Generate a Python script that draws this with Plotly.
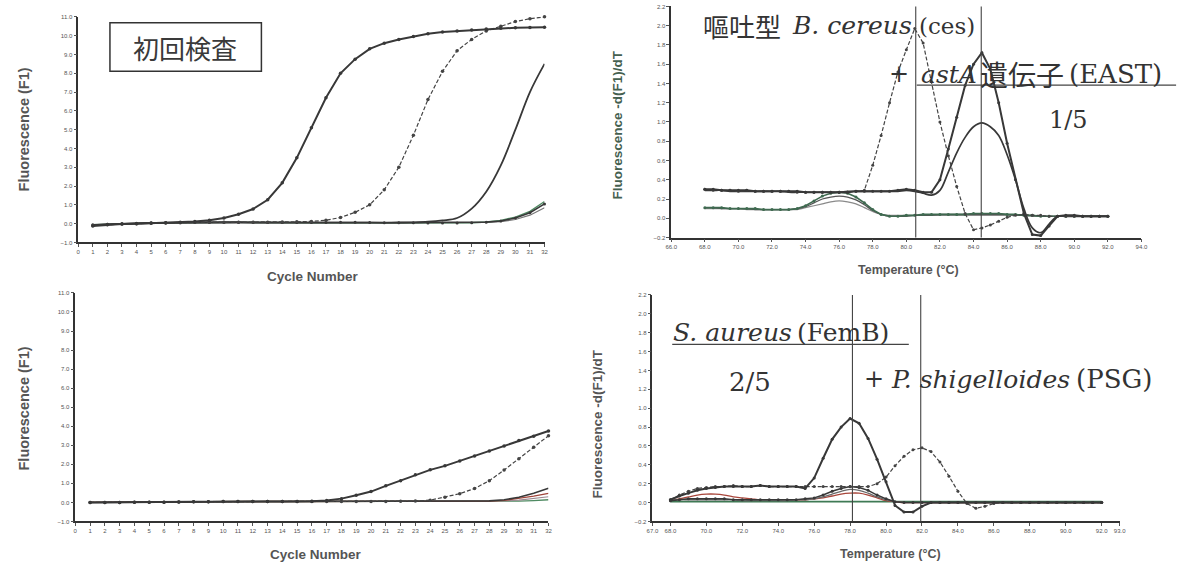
import plotly.graph_objects as go

W, H = 1191, 570

# ---------------- data ----------------
cycles = [1, 2, 3, 4, 5, 6, 7, 8, 9, 10, 11, 12, 13, 14, 15, 16,
          17, 18, 19, 20, 21, 22, 23, 24, 25, 26, 27, 28, 29, 30, 31, 32]

# top-left (初回検査) amplification curves
tl_a = [-0.12, -0.06, -0.02, 0.0, 0.03, 0.05, 0.08, 0.12, 0.18, 0.3, 0.5, 0.78, 1.27, 2.17, 3.5, 5.1,
        6.7, 8.0, 8.75, 9.3, 9.6, 9.8, 9.95, 10.1, 10.2, 10.25, 10.3, 10.35, 10.4, 10.42, 10.44, 10.45]
tl_b = [-0.1, -0.05, -0.02, 0.0, 0.02, 0.03, 0.05, 0.07, 0.08, 0.08, 0.08, 0.08, 0.08, 0.09, 0.1, 0.12,
        0.18, 0.33, 0.6, 1.0, 1.8, 3.0, 4.7, 6.6, 8.1, 9.2, 9.8, 10.25, 10.5, 10.75, 10.9, 11.0]
tl_c = [-0.08, -0.04, -0.01, 0.01, 0.03, 0.04, 0.05, 0.06, 0.06, 0.06, 0.06, 0.05, 0.05, 0.05, 0.05, 0.05,
        0.05, 0.05, 0.05, 0.05, 0.05, 0.06, 0.07, 0.1, 0.17, 0.3, 0.8, 1.7, 3.1, 5.0, 7.0, 8.5]
tl_n1 = [-0.06, -0.03, 0.0, 0.02, 0.04, 0.05, 0.06, 0.07, 0.07, 0.08, 0.08, 0.07, 0.06, 0.06, 0.06, 0.06,
         0.06, 0.07, 0.07, 0.06, 0.05, 0.05, 0.05, 0.04, 0.04, 0.04, 0.05, 0.08, 0.14, 0.3, 0.58, 1.05]
tl_n2 = [-0.05, -0.02, 0.0, 0.02, 0.03, 0.04, 0.05, 0.06, 0.06, 0.07, 0.07, 0.06, 0.05, 0.05, 0.05, 0.05,
         0.05, 0.06, 0.06, 0.05, 0.04, 0.04, 0.04, 0.03, 0.03, 0.03, 0.05, 0.09, 0.17, 0.35, 0.65, 1.18]
tl_n3 = [-0.07, -0.04, -0.01, 0.01, 0.03, 0.04, 0.05, 0.06, 0.06, 0.07, 0.07, 0.06, 0.05, 0.05, 0.05, 0.05,
         0.05, 0.06, 0.06, 0.05, 0.04, 0.04, 0.04, 0.03, 0.03, 0.03, 0.04, 0.06, 0.11, 0.22, 0.45, 0.85]

# bottom-left amplification curves
bl_d = [0.0, 0.0, 0.0, 0.01, 0.01, 0.01, 0.02, 0.03, 0.04, 0.05, 0.05, 0.05, 0.05, 0.05, 0.05, 0.06,
        0.1, 0.2, 0.38, 0.57, 0.87, 1.14, 1.45, 1.71, 1.92, 2.18, 2.44, 2.7, 2.96, 3.25, 3.48, 3.75]
bl_e = [0.0, 0.0, 0.0, 0.01, 0.01, 0.01, 0.02, 0.03, 0.04, 0.05, 0.05, 0.05, 0.05, 0.05, 0.05, 0.05,
        0.05, 0.05, 0.05, 0.05, 0.05, 0.06, 0.07, 0.12, 0.27, 0.46, 0.73, 1.14, 1.7, 2.3, 2.9, 3.5]
bl_f = [0.0, 0.0, 0.0, 0.01, 0.01, 0.01, 0.02, 0.03, 0.04, 0.05, 0.05, 0.05, 0.05, 0.05, 0.05, 0.05,
        0.05, 0.05, 0.05, 0.05, 0.05, 0.05, 0.05, 0.05, 0.05, 0.05, 0.06, 0.08, 0.14, 0.27, 0.48, 0.74]
bl_g = [0.0, 0.0, 0.0, 0.01, 0.01, 0.01, 0.02, 0.03, 0.04, 0.05, 0.05, 0.05, 0.05, 0.05, 0.05, 0.05,
        0.05, 0.05, 0.05, 0.05, 0.05, 0.05, 0.05, 0.05, 0.05, 0.05, 0.05, 0.07, 0.11, 0.2, 0.33, 0.48]
bl_h = [0.0, 0.0, 0.0, 0.01, 0.01, 0.01, 0.02, 0.03, 0.04, 0.05, 0.05, 0.05, 0.05, 0.05, 0.05, 0.05,
        0.05, 0.05, 0.05, 0.05, 0.05, 0.05, 0.05, 0.05, 0.05, 0.05, 0.05, 0.06, 0.08, 0.12, 0.2, 0.3]
bl_i = [0.0, 0.0, 0.0, 0.01, 0.01, 0.01, 0.02, 0.03, 0.04, 0.05, 0.05, 0.05, 0.05, 0.05, 0.05, 0.05,
        0.05, 0.05, 0.05, 0.05, 0.05, 0.05, 0.05, 0.05, 0.05, 0.05, 0.05, 0.05, 0.06, 0.07, 0.1, 0.14]

temps = [68.0, 68.5, 69.0, 69.5, 70.0, 70.5, 71.0, 71.5, 72.0, 72.5, 73.0, 73.5, 74.0, 74.5, 75.0, 75.5,
         76.0, 76.5, 77.0, 77.5, 78.0, 78.5, 79.0, 79.5, 80.0, 80.5, 81.0, 81.5, 82.0, 82.5, 83.0, 83.5,
         84.0, 84.5, 85.0, 85.5, 86.0, 86.5, 87.0, 87.5, 88.0, 88.5, 89.0, 89.5, 90.0, 90.5, 91.0, 91.5, 92.0]

# top-right melting curves
tr_ces = [0.30, 0.29, 0.29, 0.29, 0.28, 0.29, 0.28, 0.28, 0.28, 0.28, 0.28, 0.27, 0.27, 0.27, 0.27, 0.27,
          0.27, 0.27, 0.28, 0.29, 0.55, 0.86, 1.20, 1.52, 1.75, 1.97, 1.82, 1.42, 1.00, 0.65, 0.33, 0.05,
          -0.12, -0.10, -0.07, -0.03, 0.01, 0.03, 0.04, 0.03, 0.03, 0.02, 0.02, 0.02, 0.02, 0.02, 0.02, 0.02, 0.02]
tr_tall = [0.30, 0.30, 0.29, 0.29, 0.29, 0.29, 0.28, 0.28, 0.28, 0.28, 0.28, 0.28, 0.27, 0.27, 0.27, 0.27,
           0.27, 0.27, 0.28, 0.28, 0.28, 0.28, 0.28, 0.29, 0.30, 0.29, 0.27, 0.27, 0.40, 0.72, 1.05, 1.38,
           1.60, 1.72, 1.55, 1.20, 0.78, 0.40, 0.05, -0.17, -0.18, -0.08, 0.02, 0.03, 0.03, 0.02, 0.02, 0.02, 0.02]
tr_short = [0.29, 0.29, 0.29, 0.28, 0.28, 0.28, 0.28, 0.28, 0.28, 0.28, 0.27, 0.27, 0.27, 0.27, 0.27, 0.27,
            0.27, 0.28, 0.28, 0.28, 0.28, 0.28, 0.28, 0.28, 0.29, 0.28, 0.26, 0.24, 0.29, 0.48, 0.68, 0.84,
            0.95, 0.99, 0.95, 0.86, 0.66, 0.40, 0.10, -0.10, -0.15, -0.06, 0.02, 0.02, 0.02, 0.02, 0.02, 0.02, 0.02]
tr_low1 = [0.11, 0.11, 0.11, 0.10, 0.10, 0.10, 0.10, 0.09, 0.09, 0.09, 0.09, 0.10, 0.13, 0.18, 0.23, 0.26,
           0.27, 0.26, 0.22, 0.16, 0.09, 0.04, 0.02, 0.02, 0.03, 0.03, 0.04, 0.04, 0.04, 0.04, 0.04, 0.04,
           0.05, 0.05, 0.05, 0.05, 0.04, 0.04, 0.03, 0.03, 0.02, 0.02, 0.02, 0.02, 0.02, 0.02, 0.02, 0.02, 0.02]
tr_low2 = [0.11, 0.11, 0.10, 0.10, 0.10, 0.10, 0.09, 0.09, 0.09, 0.09, 0.09, 0.10, 0.12, 0.16, 0.20, 0.22,
           0.23, 0.22, 0.19, 0.14, 0.08, 0.04, 0.02, 0.02, 0.02, 0.03, 0.03, 0.03, 0.04, 0.04, 0.04, 0.04,
           0.04, 0.04, 0.04, 0.04, 0.04, 0.03, 0.03, 0.03, 0.02, 0.02, 0.02, 0.02, 0.02, 0.02, 0.02, 0.02, 0.02]
tr_low3 = [0.10, 0.10, 0.10, 0.10, 0.10, 0.09, 0.09, 0.09, 0.09, 0.09, 0.09, 0.09, 0.11, 0.13, 0.15, 0.17,
           0.18, 0.17, 0.15, 0.11, 0.07, 0.04, 0.03, 0.03, 0.03, 0.03, 0.03, 0.03, 0.03, 0.03, 0.03, 0.03,
           0.03, 0.03, 0.03, 0.03, 0.03, 0.03, 0.03, 0.02, 0.02, 0.02, 0.02, 0.02, 0.02, 0.02, 0.02, 0.02, 0.02]

# bottom-right melting curves
br_fem = [0.03, 0.07, 0.10, 0.13, 0.15, 0.16, 0.17, 0.17, 0.17, 0.17, 0.18, 0.17, 0.17, 0.17, 0.17, 0.15,
          0.26, 0.47, 0.67, 0.80, 0.89, 0.84, 0.68, 0.46, 0.22, -0.03, -0.10, -0.10, -0.04, 0.00, 0.00, 0.00,
          0.00, 0.00, 0.00, 0.00, 0.00, 0.00, 0.00, 0.00, 0.00, 0.00, 0.00, 0.00, 0.00, 0.00, 0.00, 0.00, 0.00]
br_psg = [0.03, 0.08, 0.12, 0.15, 0.16, 0.17, 0.17, 0.18, 0.17, 0.17, 0.18, 0.17, 0.17, 0.17, 0.17, 0.17,
          0.17, 0.17, 0.17, 0.17, 0.17, 0.17, 0.17, 0.20, 0.27, 0.39, 0.49, 0.56, 0.58, 0.54, 0.43, 0.28,
          0.12, -0.01, -0.06, -0.04, -0.01, 0.00, 0.00, 0.00, 0.00, 0.00, 0.00, 0.00, 0.00, 0.00, 0.00, 0.00, 0.00]
br_low1 = [0.02, 0.03, 0.04, 0.04, 0.04, 0.04, 0.04, 0.03, 0.03, 0.03, 0.03, 0.03, 0.03, 0.03, 0.03, 0.04,
           0.05, 0.08, 0.12, 0.15, 0.17, 0.16, 0.13, 0.08, 0.04, 0.01, 0.00, 0.00, 0.00, 0.00, 0.00, 0.00,
           0.00, 0.00, 0.00, 0.00, 0.00, 0.00, 0.00, 0.00, 0.00, 0.00, 0.00, 0.00, 0.00, 0.00, 0.00, 0.00, 0.00]
br_low2 = [0.02, 0.03, 0.03, 0.03, 0.03, 0.03, 0.03, 0.03, 0.02, 0.02, 0.02, 0.02, 0.02, 0.02, 0.03, 0.03,
           0.04, 0.06, 0.09, 0.12, 0.14, 0.13, 0.10, 0.06, 0.03, 0.01, 0.00, 0.00, 0.00, 0.00, 0.00, 0.00,
           0.00, 0.00, 0.00, 0.00, 0.00, 0.00, 0.00, 0.00, 0.00, 0.00, 0.00, 0.00, 0.00, 0.00, 0.00, 0.00, 0.00]
br_low3 = [0.02, 0.04, 0.06, 0.08, 0.09, 0.09, 0.08, 0.06, 0.05, 0.04, 0.03, 0.03, 0.03, 0.03, 0.03, 0.03,
           0.04, 0.05, 0.07, 0.09, 0.10, 0.10, 0.08, 0.05, 0.02, 0.01, 0.00, 0.00, 0.00, 0.00, 0.00, 0.00,
           0.00, 0.00, 0.00, 0.00, 0.00, 0.00, 0.00, 0.00, 0.00, 0.00, 0.00, 0.00, 0.00, 0.00, 0.00, 0.00, 0.00]
br_low4 = [0.01, 0.01, 0.01, 0.01, 0.01, 0.01, 0.01, 0.01, 0.01, 0.01, 0.01, 0.01, 0.01, 0.01, 0.01, 0.01,
           0.01, 0.01, 0.01, 0.01, 0.01, 0.01, 0.01, 0.01, 0.01, 0.01, 0.01, 0.01, 0.01, 0.01, 0.01, 0.01,
           0.01, 0.01, 0.01, 0.01, 0.01, 0.01, 0.01, 0.01, 0.01, 0.01, 0.01, 0.01, 0.01, 0.01, 0.01, 0.01, 0.01]

# tick values / labels
cyc_ticks = [0, 1, 2, 3, 4, 5, 6, 7, 8, 9, 10, 11, 12, 13, 14, 15, 16,
             17, 18, 19, 20, 21, 22, 23, 24, 25, 26, 27, 28, 29, 30, 31, 32]
fl_ticks = [-1, 0, 1, 2, 3, 4, 5, 6, 7, 8, 9, 10, 11]
der_ticks = [-0.2, 0.0, 0.2, 0.4, 0.6, 0.8, 1.0, 1.2, 1.4, 1.6, 1.8, 2.0, 2.2]
tr_temp_ticks = [66, 68, 70, 72, 74, 76, 78, 80, 82, 84, 86, 88, 90, 92, 94]
br_temp_ticks = [67, 68, 70, 72, 74, 76, 78, 80, 82, 84, 86, 88, 90, 92, 93]
tr_peaks = [80.56, 84.46]
br_peaks = [78.13, 81.93]


def px(x):
    return x / W


def py(y):
    return 1 - y / H


fig = go.Figure()
DARK = '#383838'
DASH = '4px,2px'


def add(x, y, axes, color=DARK, width=1.6, dash='solid', marker=False, msize=3.5, shape='linear'):
    fig.add_trace(go.Scatter(
        x=x, y=y, xaxis=axes[0], yaxis=axes[1],
        mode='lines+markers' if marker else 'lines',
        line=dict(color=color, width=width, dash=dash, shape=shape),
        marker=dict(size=msize, color=color),
        cliponaxis=False, showlegend=False, hoverinfo='skip'))


# top-left
A1 = ('x', 'y')
add(cycles, tl_n3, A1, '#777777', 1.2)
add(cycles, tl_n2, A1, '#4f8a62', 1.4)
add(cycles, tl_n1, A1, DARK, 1.6, marker=True, msize=3)
add(cycles, tl_c, A1, DARK, 1.8, shape='spline')
add(cycles, tl_b, A1, '#444444', 1.2, dash=DASH, marker=True, msize=3.5)
add(cycles, tl_a, A1, DARK, 2.0, marker=True, msize=3.5)

# bottom-left
A3 = ('x3', 'y3')
add(cycles, bl_i, A3, '#4f8a62', 1.3)
add(cycles, bl_h, A3, '#9a8a90', 1.2)
add(cycles, bl_g, A3, '#a0443a', 1.3)
add(cycles, bl_f, A3, DARK, 1.6)
add(cycles, bl_e, A3, '#444444', 1.2, dash=DASH, marker=True, msize=3.5)
add(cycles, bl_d, A3, DARK, 2.0, marker=True, msize=3.5)

# top-right
A2 = ('x2', 'y2')
add(temps, tr_low3, A2, '#8a8a8a', 1.2, shape='spline')
add(temps, tr_low2, A2, '#555555', 1.3, shape='spline')
add(temps, tr_low1, A2, '#3f6a50', 1.6, marker=True, msize=3)
add(temps, tr_short, A2, DARK, 1.7, shape='spline')
add(temps, tr_ces, A2, '#444444', 1.2, dash=DASH, marker=True, msize=3)
add(temps, tr_tall, A2, DARK, 2.0, marker=True, msize=3)

# bottom-right
A4 = ('x4', 'y4')
add(temps, br_low4, A4, '#3f7a55', 1.6)
add(temps, br_low3, A4, '#a8453a', 1.3, shape='spline')
add(temps, br_low2, A4, '#6a6a6a', 1.3, shape='spline')
add(temps, br_low1, A4, DARK, 1.5, marker=True, msize=3)
add(temps, br_psg, A4, '#444444', 1.2, dash=DASH, marker=True, msize=3)
add(temps, br_fem, A4, DARK, 2.0, marker=True, msize=3)

axis_common = dict(showgrid=False, zeroline=False, showline=True, linecolor='#333333', linewidth=1.5,
                   ticks='outside', ticklen=3, tickwidth=1, tickcolor='#555555', tickangle=0,
                   tickfont=dict(size=6, color='#555555', family='Liberation Sans'), tickmode='array')

fig.update_layout(
    width=W, height=H, margin=dict(l=0, r=0, t=0, b=0),
    paper_bgcolor='white', plot_bgcolor='white',
    xaxis=dict(axis_common, domain=[px(73), px(544)], range=[0, 32], tickvals=cyc_ticks, anchor='y'),
    yaxis=dict(axis_common, domain=[py(242), py(14)], range=[-1, 11], tickvals=fl_ticks,
               tickformat='.1f', anchor='x'),
    xaxis2=dict(axis_common, domain=[px(672), px(1147)], range=[66, 94], tickvals=tr_temp_ticks,
                tickformat='.1f', anchor='y2'),
    yaxis2=dict(axis_common, domain=[py(237), py(3.5)], range=[-0.2, 2.2], tickvals=der_ticks,
                tickformat='.1f', anchor='x2'),
    xaxis3=dict(axis_common, domain=[px(70), px(548)], range=[0, 32], tickvals=cyc_ticks, anchor='y3'),
    yaxis3=dict(axis_common, domain=[py(524), py(293)], range=[-1, 11], tickvals=fl_ticks,
                tickformat='.1f', anchor='x3'),
    xaxis4=dict(axis_common, domain=[px(653), px(1125)], range=[67, 93], tickvals=br_temp_ticks,
                tickformat='.1f', anchor='y4'),
    yaxis4=dict(axis_common, domain=[py(524), py(295)], range=[-0.2, 2.2], tickvals=der_ticks,
                tickformat='.1f', anchor='x4'),
)

shapes = []
for t in tr_peaks:
    shapes.append(dict(type='line', xref='x2', yref='y2 domain', x0=t, x1=t, y0=0, y1=1.0,
                       line=dict(color='#444444', width=1.1)))
for t in br_peaks:
    shapes.append(dict(type='line', xref='x4', yref='y4 domain', x0=t, x1=t, y0=0, y1=1.0,
                       line=dict(color='#444444', width=1.1)))
# box around 初回検査
shapes.append(dict(type='rect', xref='paper', yref='paper', x0=px(105), x1=px(258), y0=py(69), y1=py(20),
                   line=dict(color='#333333', width=1.5)))
# underlines
shapes.append(dict(type='line', xref='paper', yref='paper', x0=px(920), x1=px(1182), y0=py(83), y1=py(83),
                   line=dict(color='#444444', width=1.2)))
shapes.append(dict(type='line', xref='paper', yref='paper', x0=px(673), x1=px(912), y0=py(345), y1=py(345),
                   line=dict(color='#444444', width=1.2)))
fig.update_layout(shapes=shapes)

SERIF = 'DejaVu Serif'
CJK = 'Noto Sans CJK JP'
SANS = 'Liberation Sans'
TXT = '#333333'

ann = []


def note(text, x, y, size, family, color=TXT, xanchor='left', angle=0):
    ann.append(dict(text=text, xref='paper', yref='paper', x=px(x), y=py(y), xanchor=xanchor,
                    yanchor='middle', showarrow=False, textangle=angle,
                    font=dict(size=size, family=family, color=color)))


# axis titles
note('<b>Fluorescence (F1)</b>', 18, 128, 14.5, SANS, '#555555', 'center', -90)
note('<b>Fluorescence (F1)</b>', 18, 410, 14.5, SANS, '#555555', 'center', -90)
note('<b>Fluorescence -d(F1)/dT</b>', 618, 123, 13.5, SANS, '#45604f', 'center', -90)
note('<b>Fluorescence -d(F1)/dT</b>', 598, 425, 13.5, SANS, '#555555', 'center', -90)
note('<b>Cycle Number</b>', 310, 276, 13.5, SANS, '#555555', 'center')
note('<b>Cycle Number</b>', 313, 557, 13.5, SANS, '#555555', 'center')
note('<b>Temperature (°C)</b>', 912, 270, 12.5, SANS, '#555555', 'center')
note('<b>Temperature (°C)</b>', 894, 557, 12.5, SANS, '#555555', 'center')

# top-left label
note('初回検査', 181, 45, 26, CJK, '#3a3a3a', 'center')

# top-right labels
note('嘔吐型', 702, 23, 26, CJK)
note('<i>B. cereus</i>', 792, 23, 25, SERIF)
note('(ces)', 920, 23, 23, SERIF)
note('+', 902, 72, 24, SERIF, xanchor='center')
note('<i>astA</i>', 922, 72, 25, SERIF)
note('遺伝子', 982, 72, 28, CJK)
note('(EAST)', 1072, 72, 26, SERIF)
note('1/5', 1073, 118, 24, SERIF, xanchor='center')

# bottom-right labels
note('<i>S. aureus</i>', 672, 333, 25, SERIF)
note('(FemB)', 797, 333, 25, SERIF)
note('2/5', 752, 383, 26, SERIF, xanchor='center')
note('+', 877, 380, 24, SERIF, xanchor='center')
note('<i>P. shigelloides</i>', 892, 380, 25, SERIF)
note('(PSG)', 1079, 380, 26, SERIF)

fig.update_layout(annotations=ann)

fig.write_html("out.html")
